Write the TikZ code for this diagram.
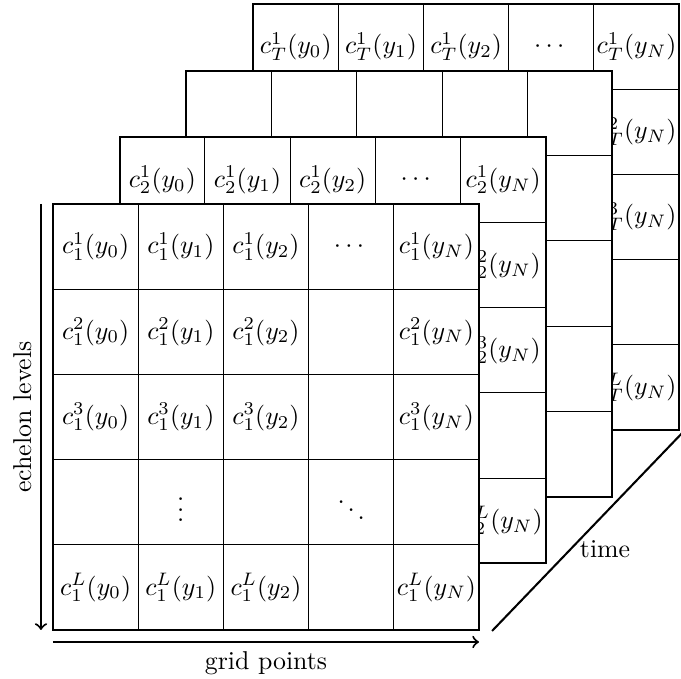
\documentclass[tikz,border=0pt]{standalone}
\usepackage{amsmath,amssymb}
\usetikzlibrary{positioning, calc}

\tikzset{
    cell/.style={draw, thin, fill=white, minimum size=33pt, inner sep=0pt},
    entry/.style={inner sep=0.5pt},
    frame/.style={thick}
}

% empty 5x5 layer, #1 = name
\newcommand{\blanklayer}[1]{%
    \foreach \r in {1,...,5} {
        \foreach \c in {1,...,5} {
            \node[cell] (#1-\r-\c) at (\c-0.5,0.5-\r) {};
        }
    }
    \draw[frame] (0,0) rectangle (5,-5);
}

% layer seen from behind: only top row and last column show, #2 = time index
\newcommand{\backlayer}[2]{%
    \blanklayer{#1}
    \foreach \c/\pt in {1/0,2/1,3/2,5/N} {
        \node[entry] (#1-t-\c) at (#1-1-\c) {$c_{#2}^{1}(y_{\pt})$};
    }
    \node[entry] (#1-t-4) at (#1-1-4) {$\cdots$};
    \foreach \r/\lev in {2/2,3/3,5/L} {
        \node[entry] (#1-t-r\r) at (#1-\r-5) {$c_{#2}^{\lev}(y_N)$};
    }
}

\begin{document}
\begin{tikzpicture}[x=33pt, y=33pt]

    \useasboundingbox (-0.622,2.394) rectangle (7.371,-5.575);

    % Back layer (time T)
    \begin{scope}[shift={(2.349,2.349)}]
        \backlayer{T}{T}
    \end{scope}

    % Blank layer in between
    \begin{scope}[shift={(1.566,1.566)}]
        \blanklayer{B}
    \end{scope}

    % Second layer
    \begin{scope}[shift={(0.783,0.783)}]
        \backlayer{S}{2}
    \end{scope}

    % Front layer
    \blanklayer{F}
    \foreach \r/\lev in {1/1,2/2,3/3,5/L} {
        \foreach \c/\pt in {1/0,2/1,3/2,5/N} {
            \node[entry] (F-t-\r-\c) at (F-\r-\c) {$c_1^{\lev}(y_{\pt})$};
        }
    }
    \node[entry] (F-t-1-4) at (F-1-4) {$\cdots$};
    \node[entry] (F-t-4-2) at (F-4-2) {$\vdots$};
    \node[entry] (F-t-4-4) at (F-4-4) {$\ddots$};

    % Axes
    \coordinate (lev-top) at (-0.141,0);
    \coordinate (lev-bot) at (-0.141,-5);
    \coordinate (grid-left) at (0,-5.141);
    \coordinate (grid-right) at (5,-5.141);
    \coordinate (time-start) at (5.153,-5.012);
    \coordinate (time-end) at (7.45,-2.62);

    \draw[->, thick] (lev-top) -- (lev-bot)
        node[midway, rotate=90, anchor=south] {echelon levels};
    \draw[->, thick] (grid-left) -- (grid-right)
        node[midway, below] {grid points};
    \draw[thick] (time-start) -- (time-end)
        node[pos=0.4, right] {time};

\end{tikzpicture}
\end{document}
